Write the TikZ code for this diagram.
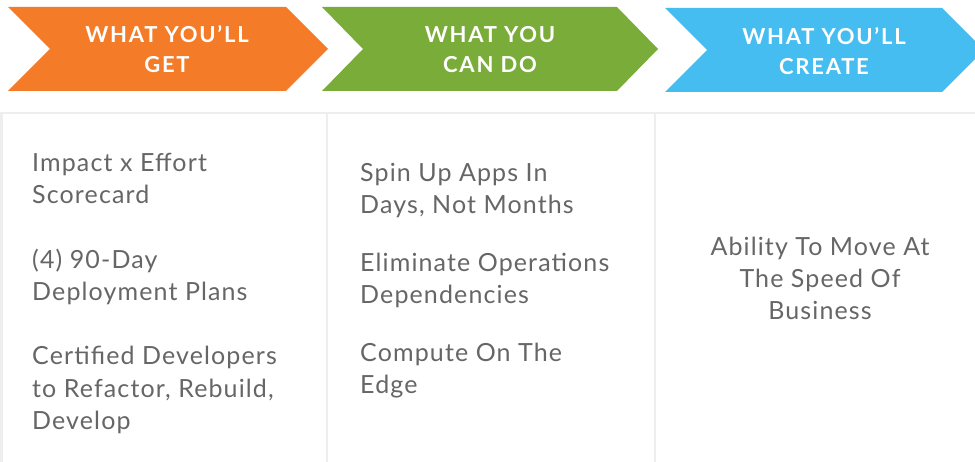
\documentclass[tikz,border=0pt]{standalone}
\usepackage{fontspec}
\setmainfont{Lato}
\newfontfamily\bodyfont[LetterSpace=4.5]{Lato}
\newfontfamily\headfont[LetterSpace=8]{Lato}
\definecolor{orng}{HTML}{F47B27}
\definecolor{grn}{HTML}{7AAC3A}
\definecolor{blu}{HTML}{46BDF0}
\definecolor{txtgray}{HTML}{666666}
\definecolor{rule}{HTML}{EEEEEE}
\begin{document}
\begin{tikzpicture}[x=1pt,y=-1pt,
  head/.style={text=white,font=\headfont\fontsize{22}{26}\selectfont\bfseries,inner sep=0,anchor=base},
  body/.style={text=txtgray,font=\bodyfont\fontsize{25}{32}\selectfont,inner sep=0,anchor=base west},
  bodyc/.style={text=txtgray,font=\bodyfont\fontsize{25}{32}\selectfont,inner sep=0,anchor=base},
  gridline/.style={draw=rule,line width=2.5pt}]
\useasboundingbox (0,0) rectangle (975,462);
\fill[white] (0,0) rectangle (975,462);
% chevrons
\fill[orng] (8,7) -- (286,7) -- (328,49) -- (286,91) -- (8,91) -- (50,49) -- cycle;
\fill[grn] (322,7) -- (617,7) -- (658,49) -- (617,91) -- (322,91) -- (363,49) -- cycle;
\fill[blu] (665,8) -- (942,8) -- (984,50) -- (942,92) -- (665,92) -- (707,50) -- cycle;
% header texts
\node[head] (h1a) at (167,43) {WHAT YOU’LL};
\node[head] (h1b) at (167,73) {GET};
\node[head] (h2a) at (490,43) {WHAT YOU};
\node[head] (h2b) at (490,73) {CAN DO};
\node[head] (h3a) at (824,45) {WHAT YOU’LL};
\node[head] (h3b) at (824,75) {CREATE};
% grid
\draw[gridline] (0,113) -- (975,113);
\draw[gridline] (1.5,113) -- (1.5,462);
\draw[gridline] (327,113) -- (327,462);
\draw[gridline] (655,113) -- (655,462);
% column 1
\node[body] (c1a) at (32,172) {Impact x Effort};
\node[body] (c1b) at (32,204) {Scorecard};
\node[body] (c1c) at (32,269) {(4) 90-Day};
\node[body] (c1d) at (32,301) {Deployment Plans};
\node[body] (c1e) at (32,365) {Certified Developers};
\node[body] (c1f) at (32,397) {to Refactor, Rebuild,};
\node[body] (c1g) at (32,429) {Develop};
% column 2
\node[body] (c2a) at (360,182) {Spin Up Apps In};
\node[body] (c2b) at (360,214) {Days, Not Months};
\node[body] (c2c) at (360,272) {Eliminate Operations};
\node[body] (c2d) at (360,304) {Dependencies};
\node[body] (c2e) at (360,362) {Compute On The};
\node[body] (c2f) at (360,394) {Edge};
% column 3
\node[bodyc] (c3a) at (820,256) {Ability To Move At};
\node[bodyc] (c3b) at (820,288) {The Speed Of};
\node[bodyc] (c3c) at (820,320) {Business};
\end{tikzpicture}
\end{document}
